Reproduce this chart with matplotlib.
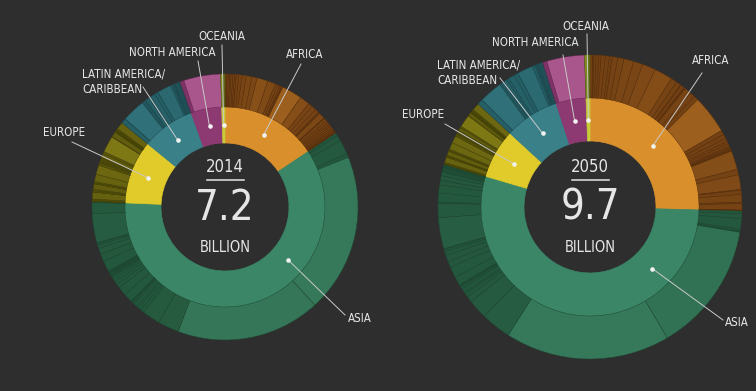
import os
import matplotlib
matplotlib.use("Agg")
import matplotlib.pyplot as plt
from matplotlib import font_manager
from matplotlib.colors import to_rgb
import numpy as np

# population by country (millions), grouped by region, in drawing order
AFRICA_2014 = [10, 0.8, 0.9, 6, 12, 11, 12, 16, 15, 14, 1.2, 23, 26, 38,
               50, 45, 97,
               69, 24, 22, 13, 4.6, 4.5, 1.7, 0.8,
               177,
               89, 39, 38, 33, 11, 6,
               54, 2.3, 2, 2, 1.3,
               26, 21, 18, 17, 16, 14, 12, 10, 7, 6, 4.4, 4, 1.9, 1.7, 0.5]
ASIA_2014 = [25, 50, 127, 33,
             1394, 1267,
             185, 158,
             31, 28, 21, 29, 17, 8.4, 5.6, 5.3, 0.8, 0.35, 78,
             76, 35, 29, 25, 22, 9.5, 9, 7.8, 7.5, 4.5, 4.4, 4.3, 3.9, 3.5, 3, 2.3, 1.3,
             92, 67, 54, 30, 15, 6.9,
             253,
             100, 5.5, 1.2, 0.4]
EUROPE_2014 = [3.2, 3.8, 4.3, 11, 61, 0.4, 0.6, 10.6, 9.5, 2.1, 47, 2.1,
               8.5, 11, 64, 83, 0.5, 17, 8.2,
               9.3, 7.2, 10.7, 9.9, 3.5, 38, 20, 143, 5.4, 45,
               5.6, 1.3, 5.4, 0.3, 4.7, 2, 3, 5.1, 9.6, 64]
LATAM_2014 = [42, 3.4, 202, 11, 18, 6.9, 31, 16, 48, 31, 0.8, 0.5,
              124, 16, 8, 6.4, 6, 4.9, 3.9,
              11, 10.5, 10.5, 3.7, 2.8, 1.3, 2]
NAMERICA_2014 = [35.5, 322.6]
OCEANIA_2014 = [23.6, 7.5, 4.5, 0.9, 2.3]

AFRICA_2050 = [28, 1.5, 1.3, 10, 22, 27, 25, 42, 42, 30, 1.2,
               56, 65, 102, 96, 138, 188,
               65, 49, 9, 34, 11, 2.5, 3.2, 0.4, 72, 50, 48,
               399,
               45, 43, 36, 26, 28, 15, 12, 10, 8, 4.7, 3.6, 0.7,
               195,
               57, 151, 8, 43, 80, 14,
               66, 3, 2.7, 3.7, 1.8]
ASIA_2050 = [28, 50, 107, 20, 4, 8, 1,
             1348, 1705,
             310, 202,
             61, 36, 21, 38, 22, 13, 8.6, 6.8, 0.9, 0.5, 92,
             112, 62, 64, 42, 22, 9,
             322,
             148, 6.7, 2.3, 0.5,
             96, 83, 46, 48, 35, 11, 13, 12, 12, 9, 5, 3.4, 6, 6, 2.8, 3.2, 1.9]
EUROPE_2050 = [2.7, 3.2, 3.6, 10, 57, 0.4, 0.6, 9, 7.5, 2, 44, 2,
               9.1, 12.5, 71, 75, 0.8, 17.6, 10.4,
               8.3, 5.6, 10.4, 8.8, 3, 34, 16, 129, 5, 35,
               6.3, 1.1, 5.8, 0.4, 5.8, 1.6, 2.4, 6.6, 11.9, 75]
LATAM_2050 = [55, 3.6, 238, 16, 21, 9, 41, 24, 63, 42, 0.8, 0.6,
              164, 27, 12, 7, 8, 6, 5.8,
              10, 14, 13, 3.4, 2.6, 1.2, 2]
NAMERICA_2050 = [44, 389]
OCEANIA_2050 = [33, 13.7, 5.7, 1.3, 3.3]

REGIONS = ["AFRICA", "ASIA", "EUROPE", "LATIN AMERICA/\nCARIBBEAN", "NORTH AMERICA", "OCEANIA"]
YEARS = ["2014", "2050"]
DATA = {
    "2014": [AFRICA_2014, ASIA_2014, EUROPE_2014, LATAM_2014, NAMERICA_2014, OCEANIA_2014],
    "2050": [AFRICA_2050, ASIA_2050, EUROPE_2050, LATAM_2050, NAMERICA_2050, OCEANIA_2050],
}

INNER = ["#d9902c", "#3a8667", "#e0cb2b", "#3a8088", "#8e3a72", "#c8cc38"]
LIGHT = ["#9c5f1e", "#36795a", "#7d7714", "#307179", "#a9568d", "#7f8a22"]
DARK = ["#6e3d12", "#23563c", "#55510b", "#235a61", "#7a2d60", "#6a741a"]
EDGE = ["#5a310c", "#1d4832", "#464307", "#1c4b51", "#6a2653", "#5a6314"]
BG = "#2e2e2e"
TXT = "#e6e6e6"
H = 391

# layout in pixels (y from top): centre, hole / inner / outer radius
GEOM = {"2014": (225, 207, 64, 100, 133), "2050": (590, 207, 66, 109, 152)}
# label: text x, text y, ha, leader end x, leader end y
LABELS = {
    "2014": [(305, 55, "center", 301, 64), (348, 318, "left", 345, 315),
             (85, 133, "right", 72, 142), (82, 82, "left", 143, 87),
             (172, 52, "center", 198, 61), (222, 36, "center", 222, 45)],
    "2050": [(711, 61, "center", 702, 73), (725, 323, "left", 723, 320),
             (444, 114, "right", 445, 124), (437, 73, "left", 500, 78),
             (535, 43, "center", 563, 55), (586, 26, "center", 587, 34)],
}
ASIA_DOT = {"2014": 130, "2050": 134.7}


def pick_font():
    prefs = ["NotoSans-ExtraCondensedLight", "NotoSans-CondensedLight", "LiberationSansNarrow-Regular",
             "DejaVuSansCondensed", "Roboto-Light"]
    files = {os.path.splitext(os.path.basename(f.fname))[0]: f.fname
             for f in font_manager.fontManager.ttflist}
    for p in prefs:
        if p in files:
            return files[p]
    return None


FONT_FILE = pick_font()


def fp(size):
    if FONT_FILE:
        f = font_manager.FontProperties(fname=FONT_FILE)
    else:
        f = font_manager.FontProperties(family="DejaVu Sans")
    f.set_size(size)
    return f


def mix(c1, c2, t):
    a = np.array(to_rgb(c1))
    b = np.array(to_rgb(c2))
    return tuple(a + (b - a) * t)


fig = plt.figure(figsize=(7.56, 3.91), dpi=100, facecolor=BG)
ax = fig.add_axes([0, 0, 1, 1])
ax.set_facecolor(BG)

for year in YEARS:
    cx, cy, r0, r1, r2 = GEOM[year]
    cy = H - cy
    groups = DATA[year]
    totals = [sum(g) for g in groups]

    # inner ring: regions
    wedges, _ = ax.pie(totals, radius=r1, center=(cx, cy), startangle=90, counterclock=False,
                       colors=INNER, wedgeprops=dict(width=r1 - r0, linewidth=0.5), frame=True)
    for w, c in zip(wedges, INNER):
        w.set_edgecolor(c)

    # outer ring: countries, lighter for bigger ones
    vals, cols, edges = [], [], []
    for i, g in enumerate(groups):
        top = max(g)
        for v in g:
            vals.append(v)
            cols.append(mix(DARK[i], LIGHT[i], v / top))
            edges.append(EDGE[i])
    wedges, _ = ax.pie(vals, radius=r2, center=(cx, cy), startangle=90, counterclock=False,
                       colors=cols, wedgeprops=dict(width=r2 - r1, linewidth=0.3), frame=True)
    for w, e in zip(wedges, edges):
        w.set_edgecolor(e)

    # leader lines and labels
    world = sum(totals)
    cum = np.cumsum([0] + totals[:-1])
    rd = (r0 + r1) / 2
    for i, name in enumerate(REGIONS):
        ang = 360 * (cum[i] + totals[i] / 2) / world
        if i == 1:
            ang = ASIA_DOT[year]
        dx = cx + rd * np.sin(np.radians(ang))
        dy = cy + rd * np.cos(np.radians(ang))
        tx, ty, ha, lx, ly = LABELS[year][i]
        ax.plot([dx, lx], [dy, H - ly], color="#c9c9c9", lw=0.7, zorder=5)
        ax.plot(dx, dy, "o", ms=3.3, color="#f2f2f2", mec="none", zorder=6)
        ax.text(tx, H - ty, name, ha=ha, va="center", color=TXT, fontproperties=fp(8.3),
                linespacing=1.25, zorder=6)

    # centre text
    ax.text(cx, H - 166.5, year, ha="center", va="center", color=TXT, fontproperties=fp(12))
    ax.plot([cx - 18.5, cx + 18.5], [H - 179.5, H - 179.5], color=TXT, lw=1.1)
    ax.text(cx, H - 208, "%.1f" % (world / 1000), ha="center", va="center", color=TXT,
            fontproperties=fp(30))
    ax.text(cx, H - 248, "BILLION", ha="center", va="center", color=TXT, fontproperties=fp(10.5))

ax.set_xlim(0, 756)
ax.set_ylim(0, H)
ax.axis("off")
fig.savefig("out.png", dpi=100, facecolor=BG)
